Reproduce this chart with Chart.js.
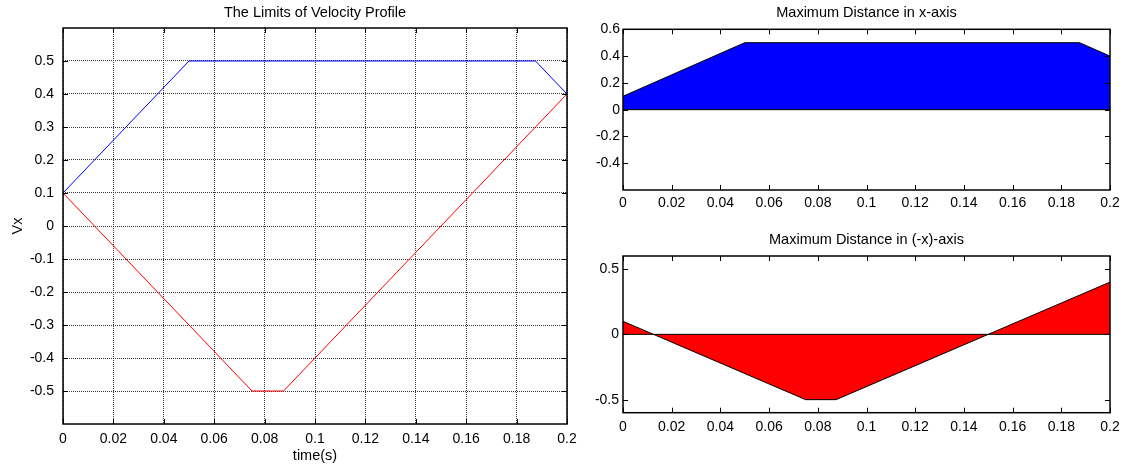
<!DOCTYPE html>
<html>
<head>
<meta charset="utf-8">
<script src="https://cdn.jsdelivr.net/npm/chart.js@4/dist/chart.umd.min.js"></script>
<style>
  body { margin: 0; background: #fff; }
  .box { position: absolute; }
</style>
</head>
<body>
<div class="box" style="left:0;top:0"><canvas id="velChart" width="590" height="470"></canvas></div>
<div class="box" style="left:580px;top:0"><canvas id="posChart" width="549" height="230"></canvas></div>
<div class="box" style="left:580px;top:230px"><canvas id="negChart" width="549" height="240"></canvas></div>
<script>
// Datos
const upperTime = [0, 0.05, 0.1875, 0.2];
const upperVel = [0.1, 0.5, 0.5, 0.4];
const lowerTime = [0, 0.075, 0.0875, 0.2];
const lowerVel = [0.1, -0.5, -0.5, 0.4];
const baseTime = [0, 0.2];
const baseVel = [0, 0];

const timeTicks = [0, 0.02, 0.04, 0.06, 0.08, 0.1, 0.12, 0.14, 0.16, 0.18, 0.2];
const velTicks = [-0.5, -0.4, -0.3, -0.2, -0.1, 0, 0.1, 0.2, 0.3, 0.4, 0.5];
const posTicks = [-0.4, -0.2, 0, 0.2, 0.4, 0.6];
const negTicks = [-0.5, 0, 0.5];

Chart.defaults.font.family = "'Liberation Sans', Arial, sans-serif";
Chart.defaults.color = "#000";

const toPoints = (xs, ys) => xs.map((x, i) => ({ x, y: ys[i] }));
const fmt = (v) => String(Math.round(v * 100) / 100);

// marco tipo MATLAB con marcas de eje hacia dentro
const frameTicks = {
  id: "frameTicks",
  afterDatasetsDraw(chart) {
    const { ctx, chartArea: a, scales } = chart;
    const len = 5;
    ctx.save();
    ctx.strokeStyle = "#000";
    ctx.lineWidth = 1;
    ctx.beginPath();
    scales.x.ticks.forEach((t) => {
      const px = Math.round(scales.x.getPixelForValue(t.value)) + 0.5;
      ctx.moveTo(px, a.bottom); ctx.lineTo(px, a.bottom - len);
      ctx.moveTo(px, a.top); ctx.lineTo(px, a.top + len);
    });
    scales.y.ticks.forEach((t) => {
      const py = Math.round(scales.y.getPixelForValue(t.value)) + 0.5;
      ctx.moveTo(a.left, py); ctx.lineTo(a.left + len, py);
      ctx.moveTo(a.right, py); ctx.lineTo(a.right - len, py);
    });
    ctx.stroke();
    ctx.lineWidth = 1.5;
    ctx.strokeRect(a.left, a.top, a.right - a.left, a.bottom - a.top);
    ctx.restore();
  },
};

const makeOptions = (cfg) => ({
  responsive: false,
  animation: false,
  devicePixelRatio: 1,
  layout: { padding: { left: 0, right: cfg.padRight, top: 0, bottom: 0 } },
  plugins: {
    legend: { display: false },
    tooltip: { enabled: false },
    title: {
      display: true,
      text: cfg.title,
      fullSize: false,
      font: { size: 14.5, weight: "normal" },
      padding: { top: cfg.titleTop, bottom: cfg.titleBottom },
    },
  },
  scales: {
    x: {
      type: "linear",
      min: 0,
      max: 0.2,
      afterBuildTicks: (s) => { s.ticks = timeTicks.map((v) => ({ value: v })); },
      afterFit: (s) => { s.height = cfg.xHeight; },
      ticks: { callback: fmt, padding: cfg.xPad, font: { size: 14 }, autoSkip: false, maxRotation: 0 },
      grid: {
        display: cfg.grid,
        drawTicks: false,
        color: "#3a3a3a",
        lineWidth: 1,
      },
      border: { display: false, dash: [1, 1] },
      title: cfg.xTitle
        ? { display: true, text: cfg.xTitle, font: { size: 14.5 }, padding: { top: 0, bottom: 5.3 } }
        : { display: false },
    },
    y: {
      min: -0.6,
      max: 0.6,
      afterBuildTicks: (s) => { s.ticks = cfg.yTicks.map((v) => ({ value: v })); },
      afterFit: (s) => { s.width = cfg.yWidth; },
      ticks: { callback: fmt, padding: cfg.yPad, font: { size: 14 } },
      grid: {
        display: cfg.grid,
        drawTicks: false,
        color: "#3a3a3a",
        lineWidth: 1,
      },
      border: { display: false, dash: [1, 1] },
      title: cfg.yTitle
        ? { display: true, text: cfg.yTitle, font: { size: 14.5 }, padding: { top: 8.8, bottom: 0 } }
        : { display: false },
    },
  },
});

new Chart(document.getElementById("velChart"), {
  type: "scatter",
  data: {
    datasets: [
      {
        label: "Limite superior",
        data: toPoints(upperTime, upperVel),
        showLine: true,
        borderColor: "#0000ff",
        borderWidth: 1,
        pointRadius: 0,
        fill: false,
      },
      {
        label: "Limite inferior",
        data: toPoints(lowerTime, lowerVel),
        showLine: true,
        borderColor: "#ff0000",
        borderWidth: 1,
        pointRadius: 0,
        fill: false,
      },
    ],
  },
  options: makeOptions({
    title: "The Limits of Velocity Profile",
    titleTop: 3.8, titleBottom: 6.8,
    padRight: 23, xHeight: 46, yWidth: 63,
    xPad: 7, yPad: 9, grid: true,
    yTicks: velTicks, xTitle: "time(s)", yTitle: "Vx",
  }),
  plugins: [frameTicks],
});

new Chart(document.getElementById("posChart"), {
  type: "scatter",
  data: {
    datasets: [
      {
        label: "Base",
        data: toPoints(baseTime, baseVel),
        showLine: true,
        borderColor: "#000",
        borderWidth: 1,
        pointRadius: 0,
        fill: false,
      },
      {
        label: "Distancia x",
        data: toPoints(upperTime, upperVel),
        showLine: true,
        borderColor: "#000",
        borderWidth: 1,
        backgroundColor: "#0000ff",
        pointRadius: 0,
        fill: "origin",
      },
    ],
  },
  options: makeOptions({
    title: "Maximum Distance in x-axis",
    titleTop: 4.6, titleBottom: 7.3,
    padRight: 19, xHeight: 40, yWidth: 43,
    xPad: 4.4, yPad: 3, grid: false,
    yTicks: posTicks,
  }),
  plugins: [frameTicks],
});

new Chart(document.getElementById("negChart"), {
  type: "scatter",
  data: {
    datasets: [
      {
        label: "Base",
        data: toPoints(baseTime, baseVel),
        showLine: true,
        borderColor: "#000",
        borderWidth: 1,
        pointRadius: 0,
        fill: false,
      },
      {
        label: "Distancia -x",
        data: toPoints(lowerTime, lowerVel),
        showLine: true,
        borderColor: "#000",
        borderWidth: 1,
        backgroundColor: "#ff0000",
        pointRadius: 0,
        fill: "origin",
      },
    ],
  },
  options: makeOptions({
    title: "Maximum Distance in (-x)-axis",
    titleTop: 1.3, titleBottom: 7.3,
    padRight: 19, xHeight: 57.3, yWidth: 43,
    xPad: 5.7, yPad: 4, grid: false,
    yTicks: negTicks,
  }),
  plugins: [frameTicks],
});
</script>
</body>
</html>
